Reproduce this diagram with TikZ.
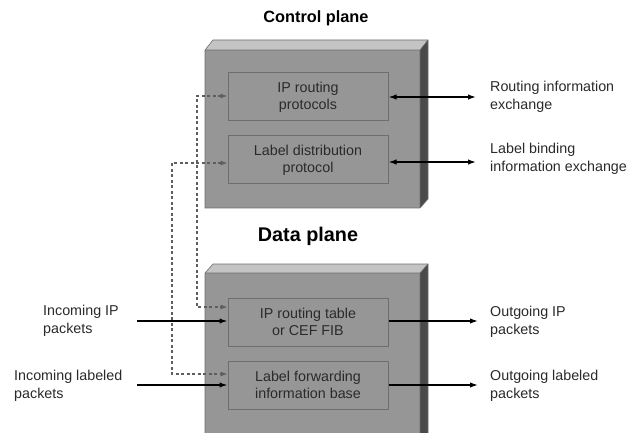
\documentclass[tikz,border=0pt]{standalone}
\usepackage{fontspec}
\setmainfont{Liberation Sans}
\usetikzlibrary{arrows.meta}
\definecolor{frontgray}{HTML}{969696}
\definecolor{topgray}{HTML}{C4C4C4}
\definecolor{sidegray}{HTML}{4A4A4A}
\definecolor{edgegray}{HTML}{6E6E6E}
\definecolor{txtgray}{HTML}{2A2A2A}
\definecolor{dashgray}{HTML}{5E5E5E}
\tikzset{
  inbox/.style={draw=edgegray, line width=1pt, fill=frontgray, minimum width=160pt, minimum height=48pt,
    align=center, inner sep=0pt, text=txtgray, font=\fontsize{14.3}{17}\selectfont},
  lbl/.style={anchor=west, align=left, inner sep=0pt, text=txtgray, font=\fontsize{14.3}{18.5}\selectfont},
  arr/.style={line width=1.5pt, -{Latex[length=8pt,width=5.5pt]}},
  darr/.style={line width=1.5pt, {Latex[length=8pt,width=5.5pt]}-{Latex[length=8pt,width=5.5pt]}},
  dsh/.style={dashgray, line width=1.1pt, dash pattern=on 3pt off 2.5pt, {Latex[length=7pt,width=5pt]}-{Latex[length=7pt,width=5pt]}},
  ttl/.style={font=\bfseries, inner sep=0pt}
}
\begin{document}
\begin{tikzpicture}[x=1pt,y=-1pt]
\clip (0,0) rectangle (635,433);
\fill[white] (0,0) rectangle (635,433);
% top block
\fill[topgray] (205,50) -- (213,40) -- (428,40) -- (420,50) -- cycle;
\fill[sidegray] (420,50) -- (428,40) -- (428,199) -- (420,208) -- cycle;
\fill[frontgray] (205,50) rectangle (420,208);
\draw[edgegray, line width=0.6pt] (205,50) -- (213,40) -- (428,40) -- (428,199) -- (420,208) -- (205,208) -- cycle;
\draw[edgegray, line width=0.6pt] (205,50) -- (420,50) -- (428,40) (420,50) -- (420,208);
% bottom block
\fill[topgray] (205,273) -- (213,264) -- (428,264) -- (420,273) -- cycle;
\fill[sidegray] (420,273) -- (428,264) -- (428,440) -- (420,440) -- cycle;
\fill[frontgray] (205,273) rectangle (420,440);
\draw[edgegray, line width=0.6pt] (205,440) -- (205,273) -- (213,264) -- (428,264) -- (428,440);
\draw[edgegray, line width=0.6pt] (205,273) -- (420,273) -- (428,264) (420,273) -- (420,440);
% titles
\node[ttl, font=\bfseries\fontsize{16.3}{18}\selectfont] (t1) at (316,18) {Control plane};
\node[ttl, font=\bfseries\fontsize{19.8}{22}\selectfont] (t2) at (308,236) {Data plane};
% inner boxes
\node[inbox] (cp1) at (308,97) {IP routing\\protocols};
\node[inbox] (cp2) at (308,160) {Label distribution\\protocol};
\node[inbox] (dp1) at (308,322) {IP routing table\\or CEF FIB};
\node[inbox] (dp2) at (308,385) {Label forwarding\\information base};
% dashed links
\coordinate (a1) at (197,96);
\coordinate (a2) at (197,307);
\coordinate (b1) at (172,163);
\coordinate (b2) at (172,374);
\draw[dsh] (cp1.west |- a1) -- (a1) -- (a2) -- (dp1.west |- a2);
\draw[dsh] (cp2.west |- b1) -- (b1) -- (b2) -- (dp2.west |- b2);
% right labels
\node[lbl] (r1) at (490,97) {Routing information\\exchange};
\node[lbl] (r2) at (490,159) {Label binding\\information exchange};
\node[lbl] (r3) at (490,322) {Outgoing IP\\packets};
\node[lbl] (r4) at (490,386) {Outgoing labeled\\packets};
% left labels
\node[lbl] (l1) at (43,321) {Incoming IP\\packets};
\node[lbl] (l2) at (14,386) {Incoming labeled\\packets};
% solid arrows
\coordinate (e1) at (476,97);
\coordinate (e2) at (476,162);
\coordinate (e3) at (478,321);
\coordinate (e4) at (478,385);
\coordinate (s1) at (137,321);
\coordinate (s2) at (137,385);
\draw[darr] (cp1.east |- e1) -- (e1);
\draw[darr] (cp2.east |- e2) -- (e2);
\draw[arr] (dp1.east |- e3) -- (e3);
\draw[arr] (dp2.east |- e4) -- (e4);
\draw[arr] (s1) -- (dp1.west |- s1);
\draw[arr] (s2) -- (dp2.west |- s2);
\end{tikzpicture}
\end{document}
